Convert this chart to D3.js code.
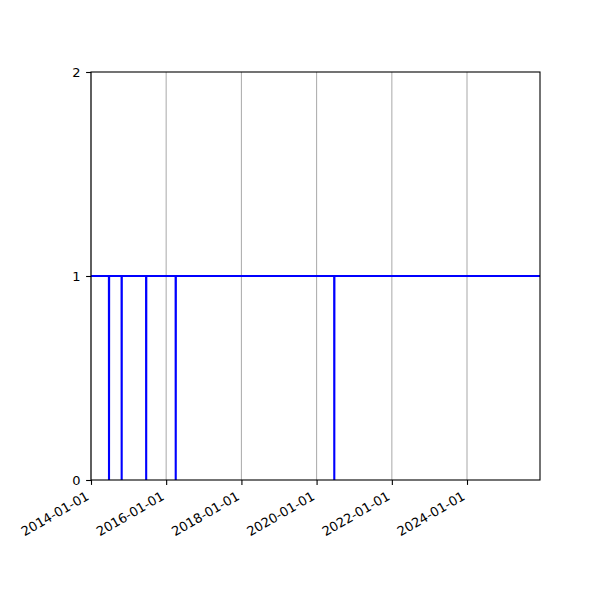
<!DOCTYPE html>
<html>
<head>
<meta charset="utf-8">
<script src="https://cdn.jsdelivr.net/npm/d3@7"></script>
<style>
  body { margin: 0; background: #fff; }
  text { font-family: "DejaVu Sans", sans-serif; }
</style>
</head>
<body>
<svg id="chart" width="600" height="600"></svg>
<script>
// series: value 1 with single-day drops to 0
var dates = ["2014-01-01", "2014-06-24", "2014-06-25", "2014-06-26",
  "2014-10-25", "2014-10-26", "2014-10-27",
  "2015-06-20", "2015-06-21", "2015-06-22",
  "2016-04-02", "2016-04-03", "2016-04-04",
  "2020-06-20", "2020-06-21", "2020-06-22", "2025-12-10"];
var values = [1, 1, 0, 1, 1, 0, 1, 1, 0, 1, 1, 0, 1, 1, 0, 1, 1];
var xTicks = ["2014-01-01", "2016-01-01", "2018-01-01", "2020-01-01", "2022-01-01", "2024-01-01"];
var yTicks = [0, 1, 2];

var parse = d3.timeParse("%Y-%m-%d");
var fmt = d3.timeFormat("%Y-%m-%d");
var data = dates.map(function (d, i) { return { date: parse(d), value: values[i] }; });

var svg = d3.select("#chart");
var plotL = 91, plotR = 540, plotT = 72, plotB = 480;

var x = d3.scaleTime()
  .domain([parse("2014-01-01"), parse("2025-12-10")])
  .range([plotL, plotR]);
var y = d3.scaleLinear().domain([0, 2]).range([plotB, plotT]);

// vertical grid
svg.append("g")
  .selectAll("line")
  .data(xTicks.map(parse))
  .enter().append("line")
  .attr("x1", function (d) { return x(d); })
  .attr("x2", function (d) { return x(d); })
  .attr("y1", plotT)
  .attr("y2", plotB)
  .attr("stroke", "#b0b0b0")
  .attr("stroke-width", 1.1);

// the line
var line = d3.line()
  .x(function (d) { return x(d.date); })
  .y(function (d) { return y(d.value); });

svg.append("path")
  .datum(data)
  .attr("d", line)
  .attr("fill", "none")
  .attr("stroke", "blue")
  .attr("stroke-width", 2.1);

// x axis
var xAxis = svg.append("g")
  .attr("transform", "translate(0," + plotB + ")")
  .call(d3.axisBottom(x).tickValues(xTicks.map(parse)).tickFormat(fmt).tickSize(4.9));
xAxis.select(".domain").remove();
xAxis.selectAll("line").attr("stroke", "#000").attr("stroke-width", 1.1);
xAxis.selectAll("text")
  .attr("font-size", 13)
  .attr("fill", "#000")
  .attr("text-anchor", "end")
  .attr("y", 0)
  .attr("dy", 0)
  .attr("transform", "translate(-1.5,18.8) rotate(-30)");

// y axis
var yAxis = svg.append("g")
  .attr("transform", "translate(" + plotL + ",0)")
  .call(d3.axisLeft(y).tickValues(yTicks).tickFormat(d3.format("d")).tickSize(4.9).tickPadding(5.5));
yAxis.select(".domain").remove();
yAxis.selectAll("line").attr("stroke", "#000").attr("stroke-width", 1.1);
yAxis.selectAll("text").attr("font-size", 13).attr("fill", "#000");

// frame
svg.append("rect")
  .attr("x", plotL)
  .attr("y", plotT)
  .attr("width", plotR - plotL)
  .attr("height", plotB - plotT)
  .attr("fill", "none")
  .attr("stroke", "#000")
  .attr("stroke-width", 1.1);
</script>
</body>
</html>
